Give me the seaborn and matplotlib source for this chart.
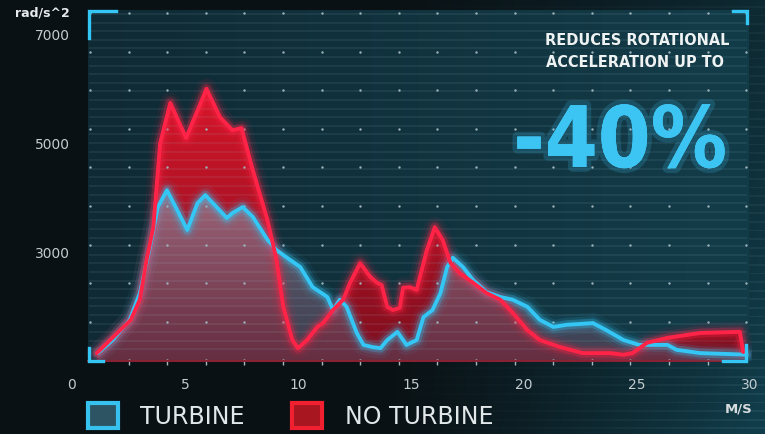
import numpy as np
import pandas as pd
import matplotlib
matplotlib.use("Agg")
import matplotlib.pyplot as plt
import seaborn as sns
from matplotlib import patheffects as pe
from matplotlib.patches import Patch
from matplotlib.path import Path
from matplotlib import font_manager
from matplotlib.font_manager import FontProperties

# ---------------- data ----------------
speed_no_turbine = [1.1, 2.6, 3.0, 3.3, 3.6, 3.9, 4.35, 5.05, 5.95, 6.55, 7.1, 7.5, 8.0, 8.65,
                    9.05, 9.35, 9.75, 10.0, 10.4, 10.85, 11.1, 11.55, 12.0, 12.3, 12.75, 13.2,
                    13.5, 13.7, 13.95, 14.2, 14.5, 14.65, 14.95, 15.25, 15.7, 16.05, 16.4, 16.75,
                    17.15, 17.75, 18.35, 18.95, 19.5, 20.15, 20.7, 21.6, 22.6, 23.8, 24.4, 24.8,
                    25.45, 26.35, 27.8, 29.55, 29.7]
accel_no_turbine = [1150, 1760, 2130, 2860, 3460, 5000, 5740, 5100, 6000, 5480, 5240, 5280, 4510, 3590,
                    2860, 2000, 1390, 1240, 1390, 1630, 1700, 1940, 2130, 2440, 2800, 2550,
                    2440, 2400, 2000, 1940, 1980, 2350, 2360, 2310, 3040, 3460, 3230, 2800,
                    2620, 2440, 2250, 2130, 1890, 1570, 1390, 1260, 1150, 1150, 1120, 1150,
                    1340, 1430, 1520, 1540, 1170]

speed_turbine = [1.15, 1.8, 2.55, 3.0, 3.45, 3.8, 4.2, 4.65, 5.1, 5.55, 5.9, 6.4, 6.85, 7.1, 7.55,
                 8.0, 8.65, 9.05, 9.65, 10.1, 10.65, 11.3, 11.55, 11.85, 12.15, 12.6, 12.9, 13.3,
                 13.65, 13.95, 14.4, 14.65, 14.8, 15.25, 15.55, 15.95, 16.3, 16.6, 16.85, 17.3,
                 17.75, 18.35, 18.95, 19.5, 20.15, 20.7, 21.3, 21.9, 23.05, 23.65, 24.4, 25.1,
                 26.35, 26.75, 27.8, 29.25, 29.85]
accel_turbine = [1150, 1390, 1760, 2250, 3100, 3830, 4140, 3780, 3410, 3900, 4050, 3830, 3630, 3720, 3830,
                 3650, 3230, 3040, 2860, 2730, 2360, 2180, 1940, 2130, 2000, 1520, 1300, 1260,
                 1240, 1390, 1540, 1390, 1300, 1390, 1810, 1940, 2250, 2730, 2900, 2730,
                 2490, 2270, 2180, 2130, 2000, 1760, 1630, 1670, 1700, 1570, 1390, 1300,
                 1300, 1210, 1150, 1130, 1120]

series_names = ["TURBINE", "NO TURBINE"]
x_ticks = [0, 5, 10, 15, 20, 25, 30]
y_ticks = [3000, 5000, 7000]
y_unit = "rad/s^2"
x_unit = "M/S"
headline = ["REDUCES ROTATIONAL", "ACCELERATION UP TO"]
big_number = "-40%"

# ---------------- style ----------------
sns.set_theme(style="dark")
plt.rcParams['font.family'] = ['DejaVu Sans']

# find the narrowest bold face available for the headline
cands = [f for f in font_manager.fontManager.ttflist
         if (('Narrow' in f.name) or ('Condensed' in f.name) or
             (str(f.stretch) in ('condensed', 'semi-condensed', 'extra-condensed')))]
bold_c = [f for f in cands if (f.weight in ('bold', 700) or str(f.weight) in ('bold', '700'))]
if bold_c:
    head_fp = FontProperties(fname=bold_c[0].fname)
elif cands:
    head_fp = FontProperties(fname=cands[0].fname, weight='bold')
else:
    names = {f.name for f in font_manager.fontManager.ttflist}
    fam = 'Roboto' if 'Roboto' in names else 'DejaVu Sans'
    head_fp = FontProperties(family=fam, weight='bold')

RED = '#ff2447'
CYAN = '#34c6f4'
W, H = 765, 434

fig = plt.figure(figsize=(W / 100, H / 100), dpi=100)
fig.patch.set_facecolor('#0a1114')

# ---- decorative background image ----
yy, xx = np.mgrid[0:H, 0:W].astype(float)
t = np.clip((xx - 380) / 385, 0, 1) ** 1.2
v = 0.55 + 0.45 * (yy / H)
mix = (t * v)[..., None]
dark = np.array([10, 17, 20]) / 255
teal = np.array([17, 62, 76]) / 255
bg = dark * (1 - mix) + teal * mix
stripe = (((yy + 3) % 8.6) < 1.8).astype(float)[..., None]
bg = bg + stripe * 0.05 * mix
pmask = ((xx >= 88) & (xx <= 748) & (yy >= 10) & (yy <= 361))[..., None]
pt = np.clip((xx - 88) / 660, 0, 1)[..., None]
pan_l = np.array([15, 42, 52]) / 255
pan_r = np.array([19, 60, 73]) / 255
panel = pan_l * (1 - pt) + pan_r * pt
bg = np.where(pmask, panel, bg)
bg = np.clip(bg, 0, 1)

bgax = fig.add_axes([0, 0, 1, 1])
bgax.imshow(bg, extent=(0, W, H, 0), aspect='auto', interpolation='bilinear')
bgax.set_xlim(0, W); bgax.set_ylim(H, 0)
bgax.axis('off')
bgax.set_zorder(0)

# ---- main axes ----
AX_L, AX_R, AX_T, AX_B = 60, 752, 10, 361
ax = fig.add_axes([AX_L / W, (H - AX_B) / H, (AX_R - AX_L) / W, (AX_B - AX_T) / H])
ax.set_zorder(1)
ax.set_facecolor('none')
X0, X1 = (AX_L - 72) / 22.6, (AX_R - 72) / 22.6
Y0, Y1 = 1005, 7446

df_no = pd.DataFrame({'speed': speed_no_turbine, 'accel': accel_no_turbine})
df_tu = pd.DataFrame({'speed': speed_turbine, 'accel': accel_turbine})


def gradient_area(df, top_rgba, bot_rgba, zorder):
    poly = ax.fill_between(df['speed'], Y0, df['accel'], color='none', lw=0)
    clip = Path.make_compound_path(*poly.get_paths())
    poly.remove()
    top = np.array(top_rgba, float)
    bot = np.array(bot_rgba, float)
    g = np.linspace(0, 1, 256)[:, None, None]
    img = bot * (1 - g) + top * g
    ytop = float(np.max(df['accel']))
    im = ax.imshow(img, extent=[X0, X1, Y0, ytop], origin='lower', aspect='auto',
                   interpolation='bilinear', zorder=zorder)
    im.set_clip_path(clip, transform=ax.transData)


gradient_area(df_no, (215 / 255, 22 / 255, 42 / 255, 1.0), (125 / 255, 14 / 255, 30 / 255, 1.0), 1)
gradient_area(df_tu, (150 / 255, 128 / 255, 148 / 255, 0.78), (85 / 255, 70 / 255, 92 / 255, 0.58), 1.1)


def axf(px, py):
    return (np.asarray(px) - AX_L) / (AX_R - AX_L), (AX_B - np.asarray(py)) / (AX_B - AX_T)


# stripes
sy = np.arange(14, 358, 8.6)
_, fy = axf(0, sy)
fx0, _ = axf(89, 0)
fx1, _ = axf(747, 0)
ax.hlines(fy, fx0, fx1, transform=ax.transAxes, colors='#a8d6e6', alpha=0.09, lw=1.3, zorder=1.5)

# dot grid
cols = 90 + 38.6 * np.arange(18)
rows = 13 + 38.6 * np.arange(10)
CX, RY = np.meshgrid(cols, rows)
dx, dy = axf(CX.ravel(), RY.ravel())
ax.scatter(dx, dy, s=3, color='#9db3ba', lw=0, transform=ax.transAxes, zorder=2)

# glowing lines
for df, col in [(df_tu, CYAN), (df_no, RED)]:
    for lw, a in [(15, 0.06), (10, 0.12), (6.5, 0.28)]:
        sns.lineplot(data=df, x='speed', y='accel', color=col, lw=lw, alpha=a, ax=ax,
                     sort=False, estimator=None, legend=False, zorder=3,
                     solid_joinstyle='round', solid_capstyle='round')
    sns.lineplot(data=df, x='speed', y='accel', color=col, lw=2.8, ax=ax,
                 sort=False, estimator=None, legend=False, zorder=3.2,
                 solid_joinstyle='round', solid_capstyle='round')

ax.set_xlim(X0, X1)
ax.set_ylim(Y0, Y1)
ax.set_xlabel('')
ax.set_ylabel('')
ax.grid(False)
for s in ['top', 'right', 'left']:
    ax.spines[s].set_visible(False)
ax.spines['bottom'].set_color('#8a2233')
ax.spines['bottom'].set_linewidth(1.4)
ax.spines['bottom'].set_bounds((88 - 72) / 22.6, (747 - 72) / 22.6)

ax.set_xticks(x_ticks)
ax.set_xticklabels([str(v) for v in x_ticks])
ax.set_yticks(y_ticks)
ax.set_yticklabels([str(v) for v in y_ticks])
minor = (90 + 38.6 * np.arange(1, 17) - 72) / 22.6
ax.set_xticks(minor, minor=True)
ax.tick_params(axis='x', which='major', length=0, pad=12, labelsize=10, labelcolor='#c3cbce')
ax.tick_params(axis='x', which='minor', length=3, width=1, color='#a8b8bd', direction='out', bottom=True)
ax.tick_params(axis='y', which='major', length=0, pad=-7.2, labelsize=10, labelcolor='#c3cbce')

# ---- overlay: brackets, texts ----
ov = fig.add_axes([0, 0, 1, 1])
ov.set_zorder(2)
ov.set_xlim(0, W); ov.set_ylim(H, 0)
ov.axis('off')
ov.patch.set_alpha(0)
bk = dict(color=CYAN, lw=2.4, solid_capstyle='projecting', solid_joinstyle='miter')
ov.plot([89, 89, 116], [38, 11, 11], **bk)
ov.plot([733, 747, 747], [11, 11, 23], **bk)
ov.plot([89, 89, 103], [348, 361, 361], **bk)
ov.plot([723, 746, 746], [361, 361, 345], **bk)

ov.text(70, 17, y_unit, ha='right', va='baseline', fontsize=9, fontweight='bold', color='#e6eaec')
ov.text(739, 413, x_unit, ha='center', va='baseline', fontsize=9.5, fontweight='bold', color='#d6dcde')

renderer = fig.canvas.get_renderer()


def fitted_text(x, y, s, target_w, max_fs, **kw):
    fs0 = 20.0
    txt = ov.text(x, y, s, ha='center', va='baseline', fontproperties=head_fp.copy(), **kw)
    txt.set_fontsize(fs0)
    w = txt.get_window_extent(renderer).width
    txt.set_fontsize(min(max_fs, fs0 * target_w / w))
    return txt


fitted_text(637, 45, headline[0], 183, 14.5, color='#eef2f2')
fitted_text(635, 67, headline[1], 177, 14.5, color='#eef2f2')
fitted_text(620, 167, big_number, 214, 86, color='#3cc4f2',
            path_effects=[pe.withStroke(linewidth=7, foreground=(0.25, 0.78, 0.98, 0.18)), pe.Normal()])

# ---- legend ----
handles = [Patch(facecolor='#2c5463', edgecolor='#36c1ef', lw=3),
           Patch(facecolor='#a8161f', edgecolor='#f02030', lw=3)]
leg = fig.legend(handles, series_names, loc='upper left', bbox_to_anchor=(88 / W, 1 - 403 / H),
                 ncol=2, frameon=False, fontsize=17, handlelength=1.27, handleheight=1.27,
                 handletextpad=0.95, columnspacing=2.0, borderpad=0, borderaxespad=0)
for txt in leg.get_texts():
    txt.set_color('#e2e8ea')

fig.savefig('out.png', dpi=100, facecolor=fig.get_facecolor())
